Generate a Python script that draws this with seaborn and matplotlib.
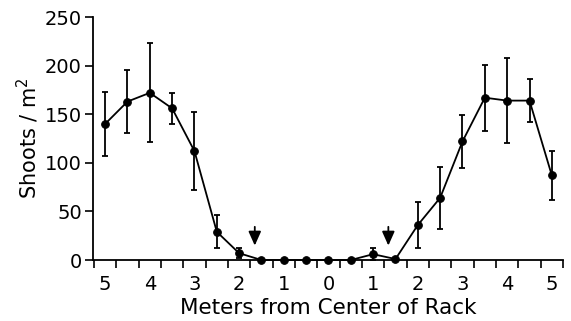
import numpy as np
import pandas as pd
import seaborn as sns
import matplotlib.pyplot as plt

# distance from rack centre (m), negative = left side
distance = [-5, -4.5, -4, -3.5, -3, -2.5, -2, -1.5, -1, -0.5, 0,
            0.5, 1, 1.5, 2, 2.5, 3, 3.5, 4, 4.5, 5]
shoots = [140, 163, 172, 156, 112, 29, 7, 0, 0, 0, 0,
          0, 6, 1, 36, 64, 122, 167, 164, 164, 87]
err = [33, 32, 51, 16, 40, 17, 5, 0, 0, 0, 0,
       0, 6, 0, 24, 32, 27, 34, 44, 22, 25]
tick_pos = [-5, -4, -3, -2, -1, 0, 1, 2, 3, 4, 5]
tick_labels = ['5', '4', '3', '2', '1', '0', '1', '2', '3', '4', '5']
arrow_x = [-1.65, 1.34]

df = pd.DataFrame({'distance': distance, 'shoots': shoots, 'err': err})

sns.set_style('ticks')
plt.rcParams['font.family'] = ['DejaVu Sans']
plt.rcParams['text.color'] = 'black'
plt.rcParams['axes.labelcolor'] = 'black'
plt.rcParams['xtick.color'] = 'black'
plt.rcParams['ytick.color'] = 'black'
plt.rcParams['axes.edgecolor'] = 'black'

fig = plt.figure(figsize=(5.71, 3.21), dpi=100)
ax = fig.add_axes([0.163, 0.19, 0.823, 0.757])

ax.errorbar(df['distance'], df['shoots'], yerr=df['err'], fmt='none',
            ecolor='black', elinewidth=1.3, capsize=2, capthick=1.3, clip_on=False)
sns.lineplot(data=df, x='distance', y='shoots', ax=ax, color='black',
             linewidth=1.3, marker='o', markersize=5.5, markeredgecolor='black',
             clip_on=False)

# arrows marking the rack edges
for xa in arrow_x:
    ax.annotate('', xy=(xa, 12), xytext=(xa, 37),
                arrowprops=dict(arrowstyle='-|>,head_width=0.38,head_length=0.85',
                                color='black', lw=1.3))

ax.set_xlim(-5.27, 5.23)
ax.set_ylim(0, 250)
ax.set_yticks([0, 50, 100, 150, 200, 250])
ax.set_xticks(tick_pos)
ax.set_xticklabels(tick_labels)
ax.set_xticks(np.arange(-5.25, 5.26, 0.5), minor=True)
ax.tick_params(axis='x', which='major', length=0, pad=11, labelsize=14)
ax.tick_params(axis='x', which='minor', length=6, width=1.2, direction='out')
ax.tick_params(axis='y', length=6, width=1.2, labelsize=14, pad=2)

ax.set_xlabel('Meters from Center of Rack', fontsize=15.5, labelpad=3)
ax.set_ylabel('Shoots / m$^2$', fontsize=15, labelpad=3)

for s in ['top', 'right']:
    ax.spines[s].set_visible(False)
for s in ['left', 'bottom']:
    ax.spines[s].set_linewidth(1.3)

plt.savefig('out.png', dpi=100)
